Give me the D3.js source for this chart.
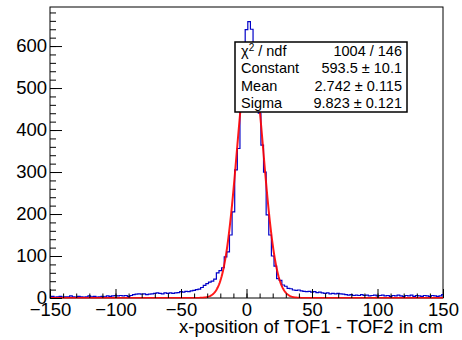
<html>
    <head>
        <script type="text/javascript" src="https://cdn.jsdelivr.net/npm/d3@7"></script>
        <style>
            body { margin: 0; background: #ffffff; }
            text { font-family: "Liberation Sans", Arial, Helvetica, sans-serif; }
        </style>
    </head>
    <body>

    </body>

    <script type="text/javascript">
        // histogram: 151 bins of width 2 starting at -151
        var binLow = -151
        var binWidth = 2
        var counts = [
            3, 4, 2, 3, 4, 2, 3, 3, 5, 3,
            2, 4, 3, 2, 3, 5, 3, 4, 2, 3,
            4, 3, 5, 4, 5, 6, 5, 6, 5, 6,
            4, 6, 8, 9, 10, 9, 10, 8, 9, 10,
            11, 12, 11, 10, 12, 11, 12, 11, 12, 13,
            15, 14, 16, 15, 17, 18, 20, 21, 25, 30,
            34, 38, 40, 45, 60, 65, 72, 98, 110, 150,
            205, 305, 356, 480, 570, 639, 658, 640, 570, 500,
            440, 364, 300, 198, 150, 100, 76, 46, 42, 31,
            28, 23, 22, 19, 18, 19, 17, 16, 15, 16,
            14, 15, 13, 14, 12, 11, 12, 10, 11, 10,
            11, 10, 9, 8, 7, 8, 6, 7, 6, 8,
            6, 7, 5, 6, 7, 5, 6, 7, 5, 6,
            4, 6, 5, 7, 5, 4, 6, 5, 7, 4,
            6, 5, 4, 6, 5, 4, 6, 5, 4, 5,
            8
        ]

        // gaussian fit result shown in the stats box
        var fitConstant = 593.5
        var fitMean = 2.742
        var fitSigma = 9.823

        var statNames = ['ndf', 'Constant', 'Mean', 'Sigma']
        var statValues = ['1004 / 146', '593.5 \u00b1 10.1', '2.742 \u00b1 0.115', '9.823 \u00b1 0.121']

        var xTicks = [-150, -100, -50, 0, 50, 100, 150]
        var yTicks = [0, 100, 200, 300, 400, 500, 600]
        var xTitle = 'x-position of TOF1 - TOF2 in cm'

        var w = 462
        var h = 340
        var frameL = 50, frameR = 443, frameT = 7, frameB = 298
        var labelSize = 18.5

        var svg = d3.select('body')
                    .append('svg')
                    .attr('width', w)
                    .attr('height', h)

        var x = d3.scaleLinear()
                    .domain([-150, 150])
                    .range([frameL, frameR])

        var y = d3.scaleLinear()
                    .domain([0, 693])
                    .range([frameB, frameT])

        svg.append('defs')
            .append('clipPath')
            .attr('id', 'frameClip')
            .append('rect')
            .attr('x', frameL)
            .attr('y', frameT)
            .attr('width', frameR - frameL)
            .attr('height', frameB - frameT + 0.6)

        // frame
        svg.append('rect')
            .attr('x', frameL)
            .attr('y', frameT)
            .attr('width', frameR - frameL)
            .attr('height', frameB - frameT)
            .attr('fill', '#fff')
            .attr('stroke', '#000')
            .attr('stroke-width', 1)

        var plot = svg.append('g').attr('clip-path', 'url(#frameClip)')

        // histogram outline
        var steps = counts.map(function(c, i){
            return [binLow + i * binWidth, c]
        })
        steps.push([binLow + counts.length * binWidth, counts[counts.length - 1]])

        var stepLine = d3.line()
                        .x(function(d){ return x(d[0]) })
                        .y(function(d){ return y(d[1]) })
                        .curve(d3.curveStepAfter)

        plot.append('path')
            .datum(steps)
            .attr('d', stepLine)
            .attr('fill', 'none')
            .attr('stroke', '#0000c8')
            .attr('stroke-width', 1.2)

        // fit curve
        var fitPoints = d3.range(-150, 150.01, 0.5).map(function(v){
            var z = (v - fitMean) / fitSigma
            return [v, fitConstant * Math.exp(-0.5 * z * z)]
        })

        plot.append('path')
            .datum(fitPoints)
            .attr('d', d3.line()
                        .x(function(d){ return x(d[0]) })
                        .y(function(d){ return y(d[1]) }))
            .attr('fill', 'none')
            .attr('stroke', '#ff0000')
            .attr('stroke-width', 2)
            .attr('opacity', 0.9)

        // axes, ticks pointing into the frame like ROOT
        var xMinor = svg.append('g')
                        .attr('transform', 'translate(0,' + frameB + ')')
                        .call(d3.axisBottom(x)
                                .tickValues(d3.range(-150, 151, 10))
                                .tickSizeInner(-4.5)
                                .tickSizeOuter(0)
                                .tickFormat(''))
        xMinor.select('.domain').remove()

        var xAxis = svg.append('g')
                        .attr('transform', 'translate(0,' + frameB + ')')
                        .call(d3.axisBottom(x)
                                .tickValues(xTicks)
                                .tickSizeInner(-9)
                                .tickSizeOuter(0)
                                .tickPadding(5)
                                .tickFormat(function(d){ return d < 0 ? '\u2212' + Math.abs(d) : d }))
        xAxis.select('.domain').remove()

        var yMinor = svg.append('g')
                        .attr('transform', 'translate(' + frameL + ',0)')
                        .call(d3.axisLeft(y)
                                .tickValues(d3.range(0, 693, 20))
                                .tickSizeInner(-6)
                                .tickSizeOuter(0)
                                .tickFormat(''))
        yMinor.select('.domain').remove()

        var yAxis = svg.append('g')
                        .attr('transform', 'translate(' + frameL + ',0)')
                        .call(d3.axisLeft(y)
                                .tickValues(yTicks)
                                .tickSizeInner(-12)
                                .tickSizeOuter(0)
                                .tickPadding(3))
        yAxis.select('.domain').remove()

        svg.selectAll('.tick line').attr('stroke', '#000')
        svg.selectAll('.tick text')
            .attr('fill', '#000')
            .style('font-size', labelSize + 'px')
            .style('font-family', '"Liberation Sans", Arial, sans-serif')

        svg.append('text')
            .attr('x', frameR)
            .attr('y', 333)
            .attr('text-anchor', 'end')
            .style('font-size', labelSize + 'px')
            .text(xTitle)

        // stats box
        var boxX = 235, boxY = 42, boxW = 172, rowH = 17.5
        var stats = svg.append('g')

        stats.append('rect')
            .attr('x', boxX)
            .attr('y', boxY)
            .attr('width', boxW)
            .attr('height', rowH * statNames.length)
            .attr('fill', '#fff')
            .attr('stroke', '#000')
            .attr('stroke-width', 1.5)

        var rows = stats.selectAll('.row')
                        .data(statNames)
                        .enter()
                        .append('g')
                        .attr('transform', function(d, i){
                            return 'translate(0,' + (boxY + rowH * i + rowH / 2 + 5) + ')'
                        })

        rows.append('text')
            .attr('x', boxX + 6)
            .style('font-size', '14.5px')
            .each(function(d){
                var t = d3.select(this)
                if (d == 'ndf'){
                    t.append('tspan').text('\u03c7')
                    t.append('tspan').attr('dy', -5).style('font-size', '10px').text('2')
                    t.append('tspan').attr('dy', 5).text(' / ndf')
                }
                else{
                    t.text(d)
                }
            })

        rows.append('text')
            .attr('x', boxX + boxW - 5)
            .attr('text-anchor', 'end')
            .style('font-size', '14.5px')
            .text(function(d, i){ return statValues[i] })
    </script>


</html>
